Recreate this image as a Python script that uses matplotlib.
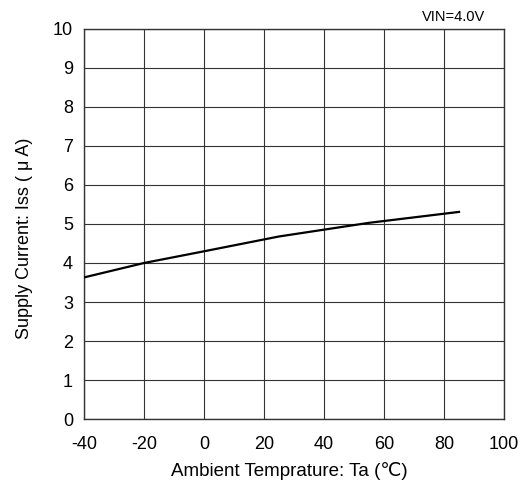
import numpy as np
import matplotlib
matplotlib.use('Agg')
import matplotlib.pyplot as plt

plt.rcParams['font.family'] = ['Liberation Sans', 'DejaVu Sans']
plt.rcParams['axes.unicode_minus'] = False

# data
temps = [-40, -20, 0, 25, 55, 85]
iss = [3.63, 4.0, 4.3, 4.68, 5.03, 5.31]

xticks = [-40, -20, 0, 20, 40, 60, 80, 100]
yticks = [0, 1, 2, 3, 4, 5, 6, 7, 8, 9, 10]

fig = plt.figure(figsize=(5.23, 4.87), dpi=100, facecolor='white')
ax = fig.add_axes([0.1606, 0.1396, 0.8031, 0.8009])

ax.plot(temps, iss, '-', color='black', lw=1.6, zorder=3)

ax.set_xlim(-40, 100)
ax.set_ylim(0, 10)
ax.set_xticks(xticks)
ax.set_yticks(yticks)
ax.tick_params(length=0, labelsize=13)
ax.tick_params(axis='x', pad=12)
ax.tick_params(axis='y', pad=8)
ax.grid(True, color='#333333', lw=0.8)
for s in ax.spines.values():
    s.set_color('#333333')
    s.set_linewidth(1.0)

ax.set_xlabel('Ambient Temprature: Ta (\u2103)', fontsize=13.5)
ax.set_ylabel('Supply Current: Iss ( \u03bc A)', fontsize=13)
ax.xaxis.set_label_coords(0.49, -0.11)
ax.yaxis.set_label_coords(-0.121, 0.464)

fig.text(0.868, 0.966, 'VIN=4.0V', fontsize=10.5, ha='center', va='center')

plt.savefig('out.png', dpi=100)
